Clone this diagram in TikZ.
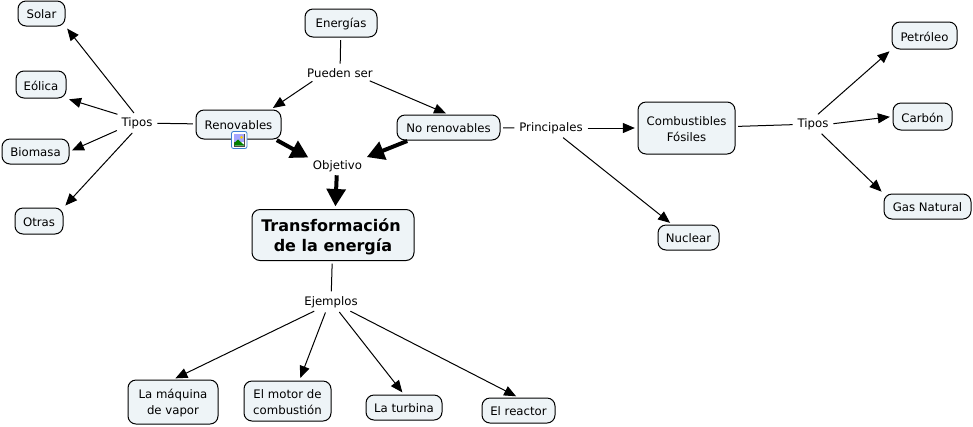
\documentclass[tikz,border=0pt]{standalone}
\usepackage{fontspec}
\setmainfont{DejaVu Sans}
\usetikzlibrary{arrows.meta,calc}
\definecolor{boxfill}{HTML}{EEF4F7}
\definecolor{iconblue}{HTML}{3B7FD0}
\newcommand{\dn}[1]{\raisebox{-0.75pt}[\height][\depth]{#1}}
\newcommand{\dnb}[1]{\raisebox{-1.4pt}[\height][\depth]{#1}}
\tikzset{
  x=0.75pt,y=-0.75pt,
  concept/.style={draw=black,line width=0.75pt,fill=boxfill,rounded corners=6pt,align=center,inner sep=0pt,font=\fontsize{8.8pt}{12pt}\selectfont,text=black},
  linker/.style={fill=white,align=center,inner sep=1.5pt,font=\fontsize{8.8pt}{12pt}\selectfont,text=black},
  plain/.style={line width=0.75pt,shorten >=2pt,shorten <=2pt},
  thin arrow/.style={plain,-{Triangle[length=9pt,width=7.5pt]}},
  bold arrow/.style={line width=3pt,shorten >=2pt,shorten <=1pt,-{Triangle[length=13pt,width=14pt,inset=0pt]}},
}
\begin{document}
\begin{tikzpicture}
\useasboundingbox (0,0) rectangle (973,426);
\fill[white] (0,0) rectangle (973,426);
% concepts
\node[concept,minimum width=35.25pt,minimum height=18.75pt] (solar) at (41.5,13.5) {\dn{Solar}};
\node[concept,minimum width=37.5pt,minimum height=20.25pt] (eolica) at (41,84.5) {\dn{Eólica}};
\node[concept,minimum width=50.25pt,minimum height=18.75pt] (biomasa) at (35.5,151.5) {\dn{Biomasa}};
\node[concept,minimum width=36pt,minimum height=19.5pt] (otras) at (39,221) {\dn{Otras}};
\node[concept,minimum width=54pt,minimum height=21pt] (energias) at (341,23) {\dn{Energías}};
\node[concept,minimum width=63.75pt,minimum height=21.75pt] (renov) at (238.5,124.5) {\dn{Renovables}};
\node[concept,minimum width=77.25pt,minimum height=18.75pt] (norenov) at (448.5,127.5) {\dn{No renovables}};
\node[concept,minimum width=72.75pt,minimum height=39pt] (combust) at (686.5,128) {\dn{Combustibles}\\\dn{Fósiles}};
\node[concept,minimum width=48.75pt,minimum height=20.25pt] (petroleo) at (924.5,35.5) {\dn{Petróleo}};
\node[concept,minimum width=44.25pt,minimum height=20.25pt] (carbon) at (922.5,116.5) {\dn{Carbón}};
\node[concept,minimum width=65.25pt,minimum height=18.75pt] (gas) at (927.5,206.5) {\dn{Gas Natural}};
\node[concept,minimum width=45.75pt,minimum height=18.75pt] (nuclear) at (688.5,237.5) {\dn{Nuclear}};
\node[concept,minimum width=121.5pt,minimum height=38.25pt,font=\fontsize{12pt}{15.5pt}\selectfont\bfseries] (transf) at (333,235) {\dnb{Transformación}\hspace*{3pt}\\\dnb{de la energía}};
\node[concept,minimum width=67.5pt,minimum height=33pt] (maquina) at (173,402) {\dn{La máquina}\\\dn{de vapor}};
\node[concept,minimum width=65.25pt,minimum height=30pt] (motor) at (287.5,401) {\dn{El motor de}\\\dn{combustión}};
\node[concept,minimum width=57pt,minimum height=18.75pt] (turbina) at (404,407.5) {\dn{La turbina}};
\node[concept,minimum width=54.75pt,minimum height=18.75pt] (reactor) at (518.5,410.5) {\dn{El reactor}};
% linking phrases
\node[linker] (pueden) at (340,73) {Pueden ser};
\node[linker] (tiposa) at (137,123) {Tipos};
\node[linker] (objetivo) at (337.5,166) {Objetivo};
\node[linker] (principales) at (551,128) {Principales};
\node[linker] (tiposb) at (813,124) {Tipos};
\node[linker] (ejemplos) at (331,302) {Ejemplos};
% connectors
\draw[plain] (energias) -- (pueden);
\draw[thin arrow] (pueden.195) -- (renov.25);
\draw[thin arrow] (pueden.-14) -- (norenov.north);
\draw[plain] (renov) -- (tiposa);
\draw[thin arrow] (tiposa.100) -- (solar.south east);
\draw[thin arrow] (tiposa.155) -- (eolica.south east);
\draw[thin arrow] (tiposa.200) -- (biomasa.east);
\draw[thin arrow] (tiposa.250) -- (otras.north east);
\draw[plain] (norenov) -- (principales);
\draw[thin arrow] (principales) -- (combust);
\draw[thin arrow] (principales) -- (nuclear);
\draw[plain] (combust) -- (tiposb);
\draw[thin arrow] (tiposb.70) -- (petroleo.south west);
\draw[thin arrow] (tiposb.east) -- (carbon.west);
\draw[thin arrow] (tiposb.-50) -- (gas.north west);
\draw[plain] (transf) -- (ejemplos);
\draw[thin arrow] (ejemplos.209) -- (maquina.north);
\draw[thin arrow] (ejemplos.240) -- (motor.60);
\draw[thin arrow] (ejemplos.-50) -- (turbina.north);
\draw[thin arrow] (ejemplos.-25) -- (reactor.north);
\draw[bold arrow] (renov.-22) -- (objetivo.165);
\draw[bold arrow] (norenov.-162) -- (objetivo.north east);
\draw[bold arrow] (objetivo.-95) -- (transf.85);
% image icon
\fill[white,draw=iconblue,line width=0.6pt,rounded corners=1.5pt] (231.5,131.5) rectangle (247,148.5);
\fill[white,draw=black!70,line width=0.5pt] (234,134) rectangle (244.5,146);
\fill[blue!35!white] (234.4,134.4) rectangle (244.1,142);
\fill[green!50!black] (234.4,145.6) -- (234.4,143) -- (238,139.5) -- (244.1,145) -- (244.1,145.6) -- cycle;
\fill[yellow!70!orange] (241.5,137.3) circle (1.5);
\end{tikzpicture}
\end{document}
